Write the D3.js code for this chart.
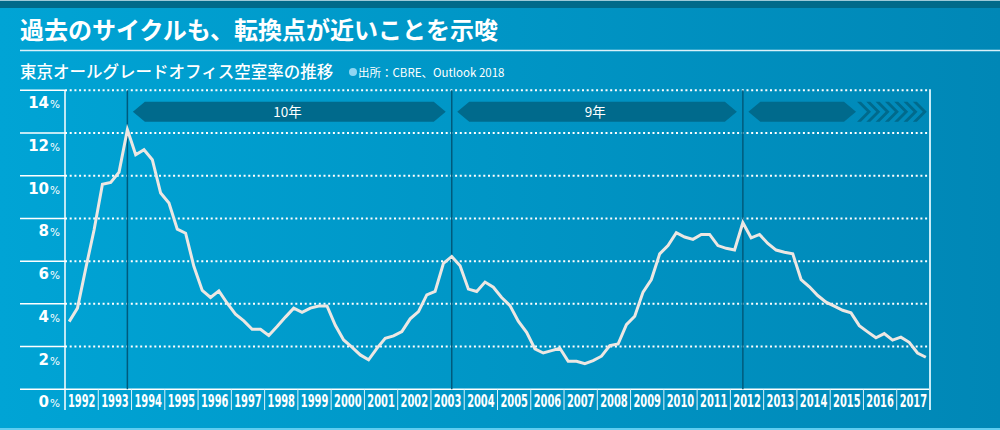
<html lang="ja">
<head>
<meta charset="utf-8">
<script src="https://d3js.org/d3.v7.min.js"></script>
<style>
  body { margin: 0; background: #0095c6; }
  svg { display: block; }
</style>
</head>
<body>
<svg id="chart" width="1000" height="430"></svg>
<script>
// ------------------------------------------------------------------
// data (quarterly vacancy rate, %)
// ------------------------------------------------------------------
const titleText = "過去のサイクルも、転換点が近いことを示唆";
const subtitleText = "東京オールグレードオフィス空室率の推移";
const sourceText = "出所：CBRE、Outlook 2018";

const years = [1992, 1993, 1994, 1995, 1996, 1997, 1998, 1999, 2000, 2001, 2002, 2003, 2004,
               2005, 2006, 2007, 2008, 2009, 2010, 2011, 2012, 2013, 2014, 2015, 2016, 2017];
const yTicks = [0, 2, 4, 6, 8, 10, 12, 14];

const vacancy = [
  3.17, 3.8, 5.67, 7.47, 9.6, 9.69, 10.17, 12.16, 10.98, 11.22, 10.75, 9.19, 8.72,
  7.5, 7.31, 5.75, 4.63, 4.3, 4.61, 4.03, 3.52, 3.2, 2.81, 2.81, 2.52, 2.94,
  3.38, 3.8, 3.6, 3.8, 3.9, 3.9, 3.0, 2.31, 1.97, 1.61, 1.38, 1.92, 2.39,
  2.5, 2.7, 3.3, 3.64, 4.42, 4.58, 5.9, 6.22, 5.78, 4.69, 4.58, 5.02, 4.78,
  4.3, 3.92, 3.19, 2.67, 1.89, 1.7, 1.81, 1.92, 1.31, 1.31, 1.2, 1.34, 1.55,
  2.05, 2.12, 3.03, 3.42, 4.55, 5.14, 6.34, 6.73, 7.33, 7.13, 7.02, 7.25, 7.25,
  6.73, 6.6, 6.52, 7.8, 7.09, 7.25, 6.83, 6.52, 6.42, 6.34, 5.14, 4.8, 4.39,
  4.08, 3.89, 3.7, 3.58, 2.98, 2.69, 2.41, 2.61, 2.3, 2.44, 2.2, 1.7, 1.5
];

// cycle peaks (year, quarter) and the length label between them
const peakYears = [1993, 2003, 2012];
const peakQuarters = [4, 3, 2];
const cycleLabels = ["10年", "9年"];

// ------------------------------------------------------------------
// setup
// ------------------------------------------------------------------
const svg = d3.select("#chart");
const W = 1000, H = 430;
const plotLeft = 65, plotRight = 930, plotTop = 90.3, plotBottom = 389.3;

const x = d3.scaleLinear().domain([years[0], years[years.length - 1] + 1]).range([plotLeft, plotRight]);
const y = d3.scaleLinear().domain([0, 14]).range([plotBottom, plotTop]);
const qTime = (yr, q) => yr + (q - 0.5) / 4;

const defs = svg.append("defs");
const grad = defs.append("linearGradient").attr("id", "bg").attr("x1", 0).attr("x2", 1).attr("y1", 0).attr("y2", 0);
grad.append("stop").attr("offset", 0).attr("stop-color", "#00a4d5");
grad.append("stop").attr("offset", 1).attr("stop-color", "#0087b6");

svg.append("rect").attr("width", W).attr("height", H).attr("fill", "url(#bg)");
// top strip
svg.append("rect").attr("width", W).attr("height", 8).attr("fill", "#006a8a");
svg.append("rect").attr("width", W).attr("height", 1).attr("fill", "#9cc9d8");
// bottom light line
svg.append("rect").attr("y", 428).attr("width", W).attr("height", 2).attr("fill", "#5fcdf0");

// title
svg.append("text")
  .attr("x", 20).attr("y", 38.5)
  .attr("font-family", "'Noto Sans CJK JP'")
  .attr("font-weight", 700)
  .attr("font-size", 24)
  .attr("fill", "#fff")
  .text(titleText);

svg.append("line")
  .attr("x1", 20).attr("x2", W).attr("y1", 50.5).attr("y2", 50.5)
  .attr("stroke", "#d8f1fa").attr("stroke-width", 1.5);

svg.append("text")
  .attr("x", 20).attr("y", 77.5)
  .attr("font-family", "'Noto Sans CJK JP'")
  .attr("font-weight", 500)
  .attr("font-size", 16.5)
  .attr("fill", "#fff")
  .text(subtitleText);

svg.append("circle").attr("cx", 353).attr("cy", 72).attr("r", 4).attr("fill", "#8ed6f2");
svg.append("text")
  .attr("x", 358).attr("y", 76.5)
  .attr("font-family", "'Noto Sans CJK JP'")
  .attr("font-size", 11.5)
  .attr("fill", "#fff")
  .text(sourceText);

// ------------------------------------------------------------------
// grid and axes
// ------------------------------------------------------------------
const g = svg.append("g");

g.selectAll(".grid")
  .data(yTicks.filter(d => d > 0))
  .join("line")
  .attr("x1", plotLeft).attr("x2", plotRight)
  .attr("y1", d => y(d)).attr("y2", d => y(d))
  .attr("stroke", "#fff").attr("stroke-width", 2)
  .attr("stroke-dasharray", "2,2.7");

// left tick lines
g.selectAll(".ytick")
  .data(yTicks)
  .join("line")
  .attr("x1", 20).attr("x2", plotLeft)
  .attr("y1", d => y(d)).attr("y2", d => y(d))
  .attr("stroke", "#fff").attr("stroke-width", 1.5);

// zero line
g.append("line")
  .attr("x1", plotLeft).attr("x2", plotRight).attr("y1", y(0)).attr("y2", y(0))
  .attr("stroke", "#fff").attr("stroke-width", 1.5);

// y axis line and right border
g.append("line").attr("x1", plotLeft).attr("x2", plotLeft).attr("y1", plotTop).attr("y2", 410)
  .attr("stroke", "#fff").attr("stroke-width", 1.5);
g.append("line").attr("x1", plotRight).attr("x2", plotRight).attr("y1", plotTop - 1).attr("y2", 410)
  .attr("stroke", "#c6ecf8").attr("stroke-width", 2);

// y labels
const yl = g.selectAll(".ylab")
  .data(yTicks)
  .join("text")
  .attr("x", 60)
  .attr("y", d => y(d) + 18)
  .attr("text-anchor", "end")
  .attr("font-family", "'DejaVu Sans'")
  .attr("fill", "#fff");
yl.append("tspan").attr("font-weight", 700).attr("font-size", 15).text(d => d);
yl.append("tspan").attr("font-size", 10.5).attr("dx", 1).text("%");

// year cells
g.selectAll(".ysep")
  .data(years.slice(1))
  .join("line")
  .attr("x1", d => x(d)).attr("x2", d => x(d))
  .attr("y1", plotBottom).attr("y2", 410)
  .attr("stroke", "#d8f1fa").attr("stroke-width", 1);

// condensed year labels: squeeze each to fit its cell
const xl = g.selectAll(".xlab")
  .data(years)
  .join("text")
  .attr("text-anchor", "middle")
  .attr("font-family", "'DejaVu Sans Condensed', 'DejaVu Sans'")
  .attr("font-weight", 700)
  .attr("font-size", 17)
  .attr("fill", "#fff")
  .text(d => d);
xl.attr("transform", function (d) {
  const s = 27.5 / this.getComputedTextLength();
  return `translate(${x(d + 0.5)},406.5) scale(${s},1)`;
});

// ------------------------------------------------------------------
// cycle markers and arrow bands
// ------------------------------------------------------------------
const peakX = peakYears.map((yr, i) => x(qTime(yr, peakQuarters[i])));
const bandColor = "#006a8c";
const bTop = 101.7, bBot = 121.7, bMid = (bTop + bBot) / 2;

g.selectAll(".peak")
  .data(peakX)
  .join("line")
  .attr("x1", d => d).attr("x2", d => d)
  .attr("y1", plotTop).attr("y2", plotBottom)
  .attr("stroke", "#005a7c").attr("stroke-width", 1.5);

function bandPath(x0, x1) {
  const l = x0 + 5.5, r = x1 - 6;
  return `M${l},${bMid} L${l + 12},${bTop} L${r - 12},${bTop} L${r},${bMid} ` +
         `L${r - 12},${bBot} L${l + 12},${bBot} Z`;
}

cycleLabels.forEach((lab, i) => {
  const x0 = peakX[i], x1 = peakX[i + 1];
  g.append("path").attr("d", bandPath(x0, x1)).attr("fill", bandColor);
  g.append("text")
    .attr("x", (x0 + x1) / 2 - 2).attr("y", bMid + 4.8)
    .attr("text-anchor", "middle")
    .attr("font-family", "'Noto Sans CJK JP'")
    .attr("font-size", 13.5)
    .attr("fill", "#fff")
    .text(lab);
});

// last band: open-ended with chevrons
const lastX = peakX[peakX.length - 1];
g.append("path").attr("d", bandPath(lastX, 862)).attr("fill", bandColor);
const chevrons = d3.range(7).map(k => 857 + k * 9.3);
g.selectAll(".chev")
  .data(chevrons)
  .join("path")
  .attr("d", d => `M${d},${bTop} L${d + 10},${bMid} L${d},${bBot} L${d + 4},${bBot} L${d + 14},${bMid} L${d + 4},${bTop} Z`)
  .attr("fill", bandColor);

// ------------------------------------------------------------------
// line
// ------------------------------------------------------------------
const line = d3.line()
  .x((d, i) => x(years[0] + (i + 0.5) / 4))
  .y(d => y(d));

g.append("path")
  .datum(vacancy)
  .attr("d", line)
  .attr("fill", "none")
  .attr("stroke", "#ece7e3")
  .attr("stroke-width", 3)
  .attr("stroke-linejoin", "miter");
</script>
</body>
</html>
